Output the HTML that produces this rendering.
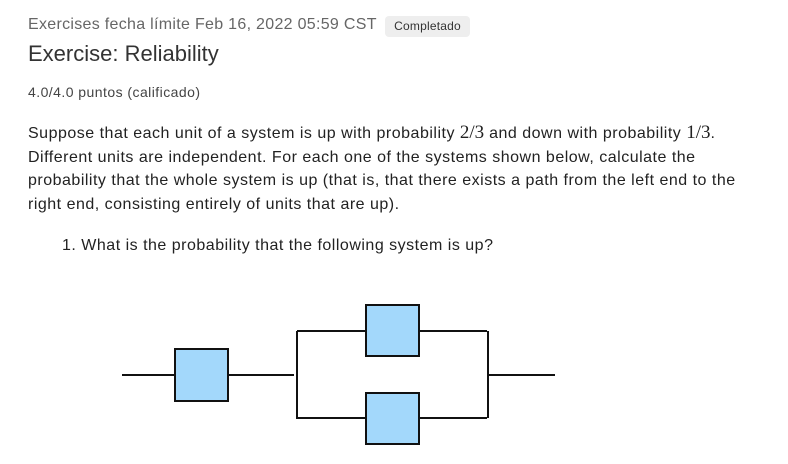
<!DOCTYPE html>
<html><head><meta charset="utf-8"><style>
body{margin:0;width:788px;height:464px;background:#fff;font-family:"Liberation Sans",sans-serif;color:#222;position:relative;overflow:hidden}
.a{position:absolute;white-space:nowrap}
</style></head><body>
<div class="a" style="left:28px;top:16px;font-size:16px;color:#666;letter-spacing:0.3px">Exercises fecha límite Feb 16, 2022 05:59 CST</div>
<div class="a" style="left:385px;top:16px;width:85px;height:21px;background:#eee;border-radius:4px;font-size:12px;color:#333;line-height:21px;text-align:center;letter-spacing:0.2px">Completado</div>
<div class="a" style="left:28px;top:41px;font-size:22px;color:#333">Exercise: Reliability</div>
<div class="a" style="left:28px;top:84px;font-size:14px;color:#444;letter-spacing:0.45px">4.0/4.0 puntos (calificado)</div>
<div class="a" style="left:28px;top:121px;font-size:16px;line-height:23.5px;color:#222;letter-spacing:0.5px">Suppose that each unit of a system is up with probability <span style="font-family:'Liberation Serif',serif;font-size:19px;letter-spacing:0">2/3</span> and down with probability <span style="font-family:'Liberation Serif',serif;font-size:19px;letter-spacing:0">1/3</span>.<br>Different units are independent. For each one of the systems shown below, calculate the<br>probability that the whole system is up (that is, that there exists a path from the left end to the<br>right end, consisting entirely of units that are up).</div>
<div class="a" style="left:62px;top:237px;font-size:16px;color:#222;letter-spacing:0.5px">1. What is the probability that the following system is up?</div>
<svg class="a" style="left:0;top:0" width="788" height="464">
<g stroke="#111" stroke-width="2" fill="none">
<path d="M122 375H175M228 375H294M297 331V419M297 331H366M419 331H487M297 418H366M419 418H487M488 331V418M488 375H555"/>
</g>
<g stroke="#111" stroke-width="2" fill="#a3d8fb">
<rect x="175" y="349" width="53" height="52"/>
<rect x="366" y="305" width="53" height="51"/>
<rect x="366" y="393" width="53" height="51"/>
</g>
</svg>
</body></html>
